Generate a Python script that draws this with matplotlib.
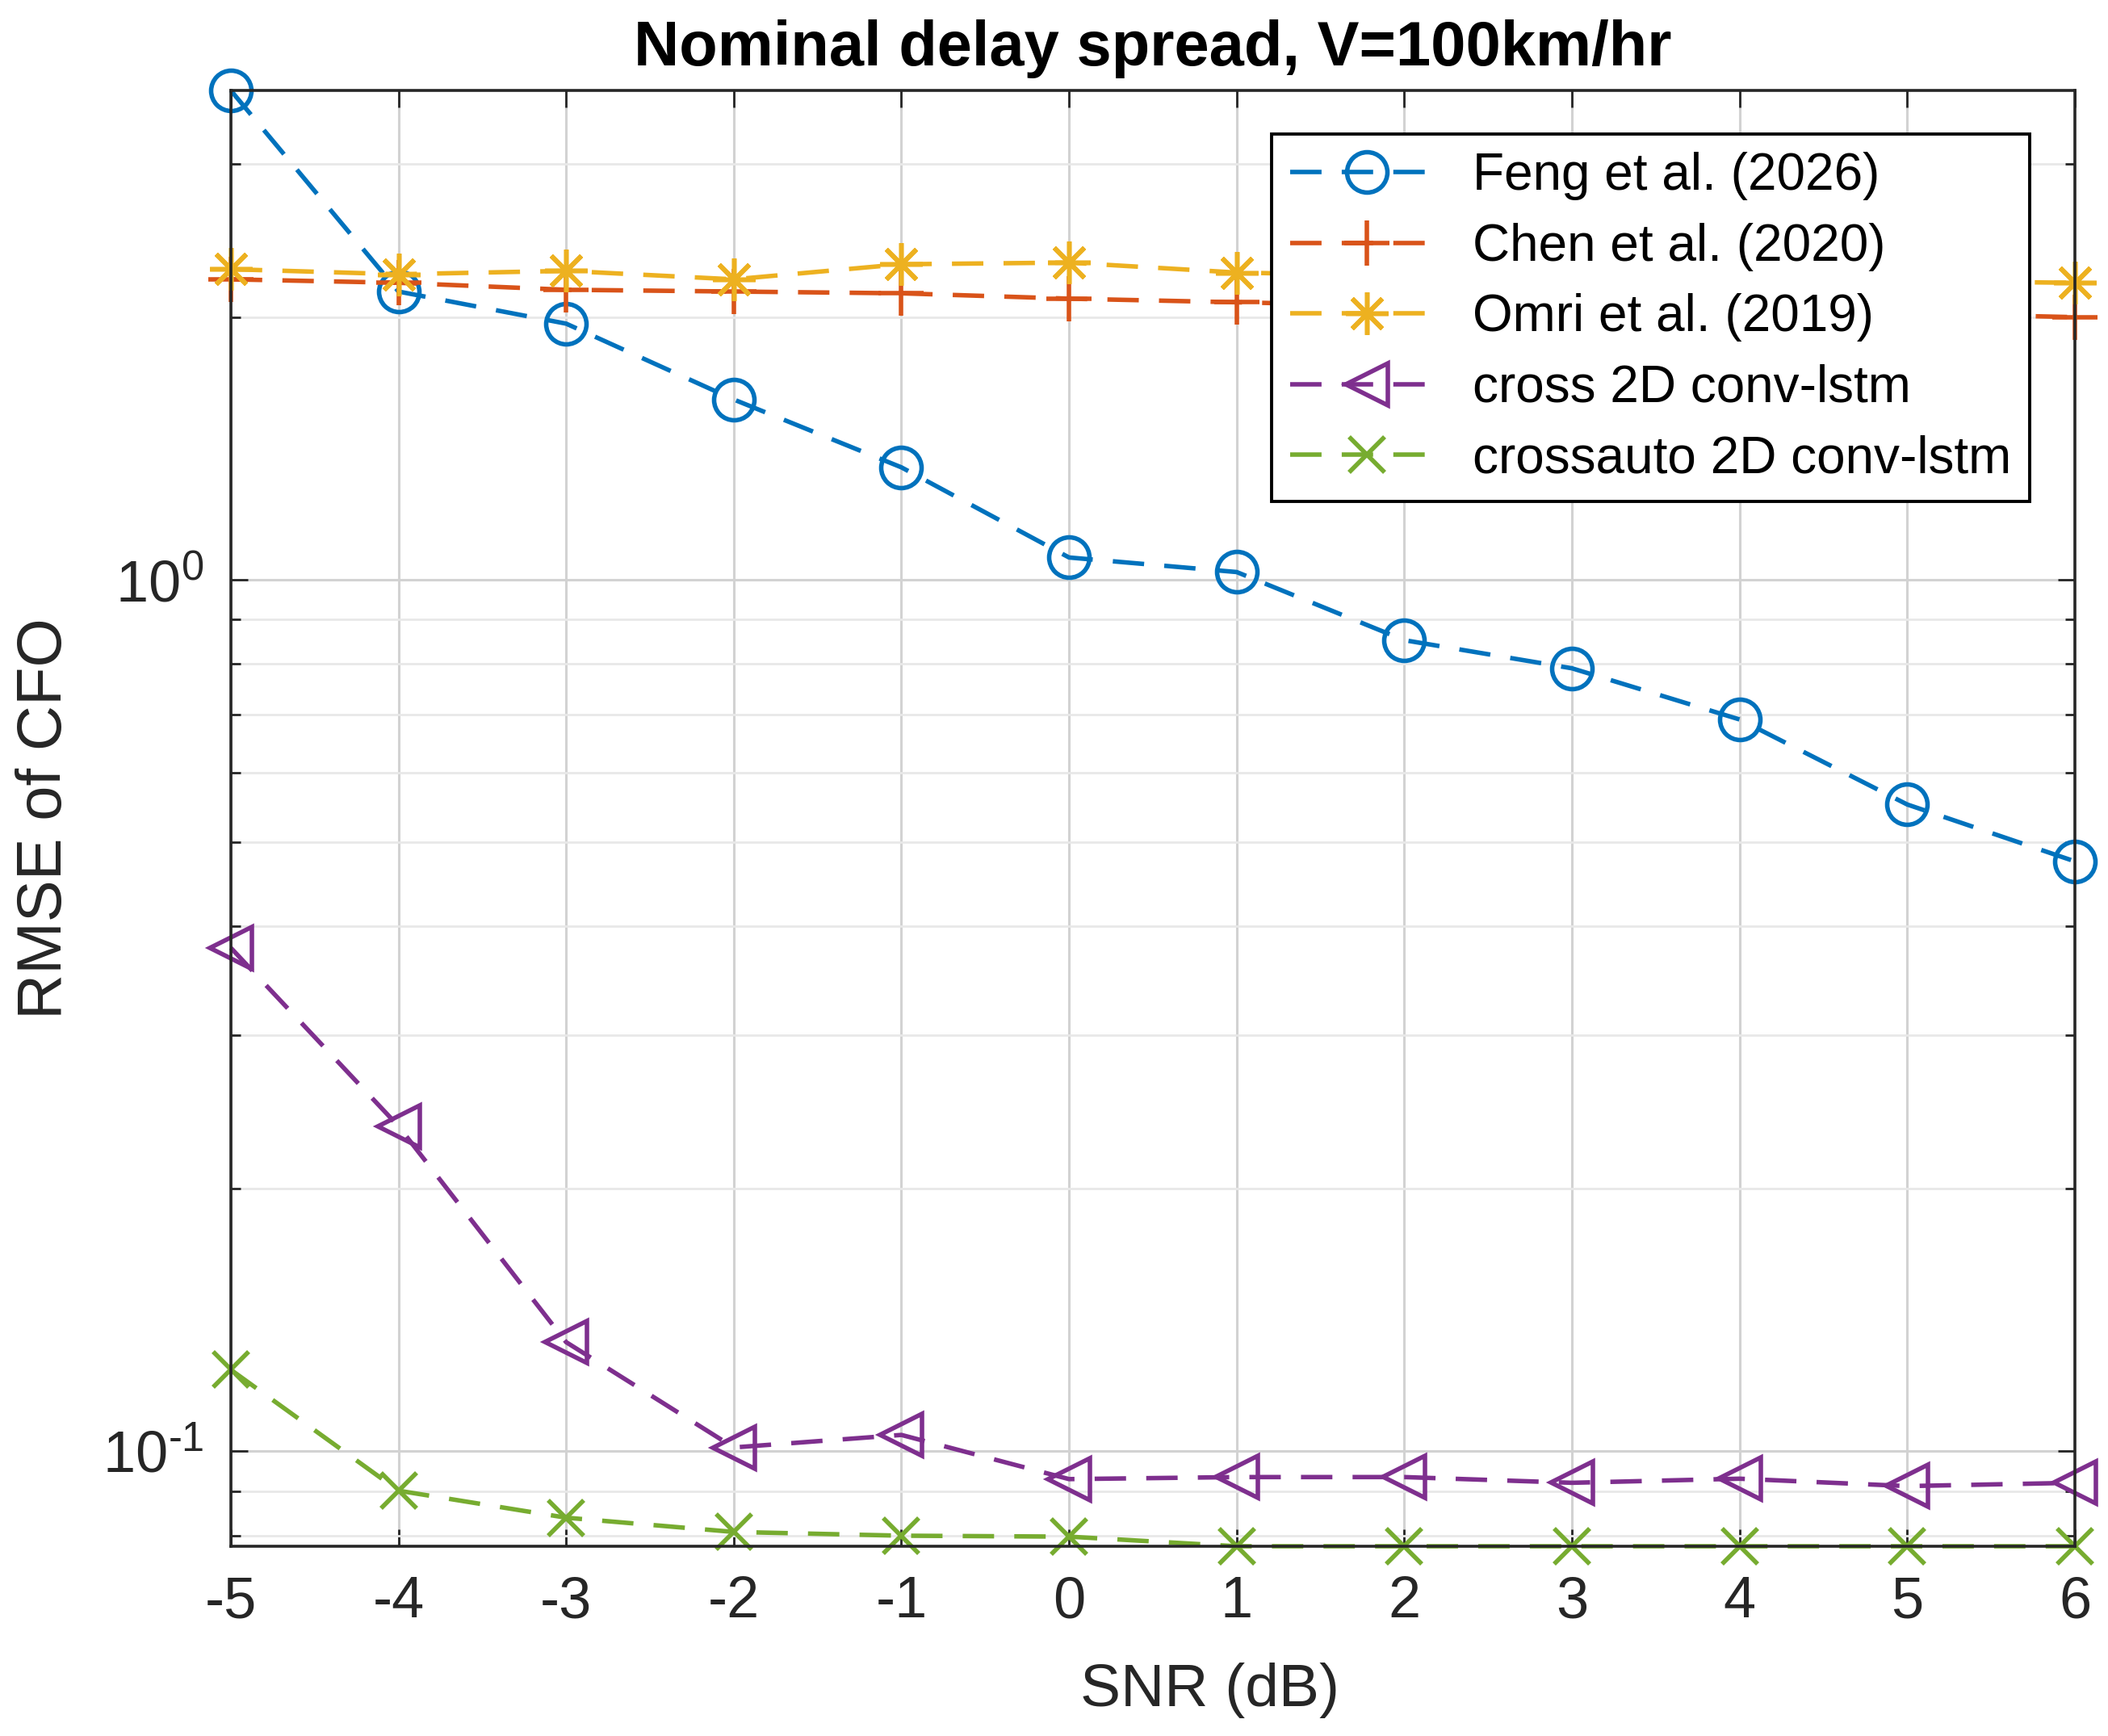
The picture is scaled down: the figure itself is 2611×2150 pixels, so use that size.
import matplotlib
matplotlib.use("Agg")
import matplotlib.pyplot as plt
from matplotlib.ticker import LogLocator, NullFormatter, FixedLocator, FixedFormatter

plt.rcParams['font.family'] = ['Liberation Sans', 'DejaVu Sans']
plt.rcParams['mathtext.fontset'] = 'custom'
plt.rcParams['mathtext.rm'] = 'Liberation Sans'
plt.rcParams['mathtext.it'] = 'Liberation Sans:italic'

snr = [-5, -4, -3, -2, -1, 0, 1, 2, 3, 4, 5, 6]

feng = [3.64, 2.14, 1.966, 1.609, 1.345, 1.06, 1.02, 0.852, 0.791, 0.691, 0.552, 0.475]
chen = [2.21, 2.19, 2.15, 2.14, 2.13, 2.10, 2.08, 2.06, 2.05, 2.03, 2.02, 2.00]
omri = [2.27, 2.24, 2.26, 2.21, 2.30, 2.31, 2.25, 2.23, 2.22, 2.21, 2.20, 2.19]
cross = [0.378, 0.236, 0.1334, 0.101, 0.1044, 0.0929, 0.0934, 0.0934, 0.092, 0.093, 0.0912, 0.092]
crossauto = [0.124, 0.0901, 0.0839, 0.0808, 0.0800, 0.0798, 0.0778, 0.0778, 0.0778, 0.0778, 0.0778, 0.0778]

labels = ['Feng et al. (2026)', 'Chen et al. (2020)', 'Omri et al. (2019)',
          'cross 2D conv-lstm', 'crossauto 2D conv-lstm']
colors = ['#0072BD', '#D95319', '#EDB120', '#7E2F8E', '#77AC30']
markers = ['o', '+', (8, 2, 0), '<', 'x']

fig = plt.figure(figsize=(13.055, 10.75), dpi=200)
ax = fig.add_axes([0.1095, 0.1093, 0.8748, 0.8386])

series = [feng, chen, omri, cross, crossauto]
sizes = [18, 20, 19, 19, 16]
for y, lab, c, m, ms in zip(series, labels, colors, markers, sizes):
    ax.plot(snr, y, linestyle='--', dashes=(7, 4.5), color=c, lw=2.0,
            marker=m, markersize=ms, markerfacecolor='none',
            markeredgecolor=c, markeredgewidth=2.0, label=lab, clip_on=False)

ax.set_yscale('log')
ax.set_xlim(-5, 6)
ax.set_ylim(0.0778, 3.64)
ax.set_xticks(snr)
ax.set_xticklabels([str(v) for v in snr])
ax.yaxis.set_major_locator(FixedLocator([0.1, 1.0]))
ax.yaxis.set_major_formatter(FixedFormatter([r'$\mathregular{10^{\text{-}1}}$', r'$\mathregular{10^{0}}$']))
ax.yaxis.set_minor_locator(LogLocator(base=10, subs=range(2, 10)))
ax.yaxis.set_minor_formatter(NullFormatter())

ax.grid(True, which='major', color='#d2d2d2', lw=1.1)
ax.grid(True, which='minor', axis='y', color='#e8e8e8', lw=1.0)
ax.set_axisbelow(True)

ax.tick_params(which='both', direction='in', top=True, right=True, colors='#262626',
               labelcolor='#262626', labelsize=26, width=1.0)
ax.tick_params(which='major', length=7.5)
ax.tick_params(which='minor', length=4.3)
ax.tick_params(axis='x', which='major', pad=13)
ax.tick_params(axis='y', which='major', pad=12)
for s in ax.spines.values():
    s.set_linewidth(1.3)
    s.set_color('#262626')

ax.set_xlabel('SNR (dB)', fontsize=27, color='#262626')
ax.xaxis.set_label_coords(0.531, -0.080)
ax.set_ylabel('RMSE of CFO', fontsize=28, color='#262626')
ax.yaxis.set_label_coords(-0.085, 0.5)
ax.set_title('Nominal delay spread, V=100km/hr', fontsize=28, fontweight='bold', pad=11)

leg = ax.legend(loc='upper right', bbox_to_anchor=(0.9755, 0.970), borderaxespad=0,
                fontsize=23, fancybox=False, framealpha=1, edgecolor='#000000',
                handlelength=3.0, handletextpad=0.55, labelspacing=0.43, borderpad=0.35)
leg.get_frame().set_linewidth(1.4)

fig.savefig('out.png', dpi=200)
